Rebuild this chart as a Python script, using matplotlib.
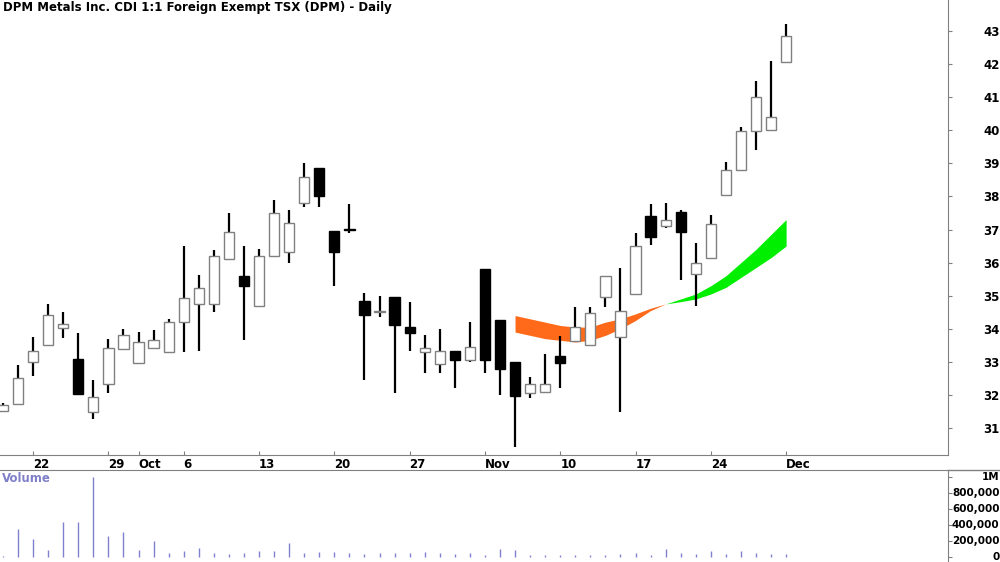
import matplotlib
matplotlib.use("Agg")
import matplotlib.pyplot as plt
import numpy as np

opens  = [31.5,31.72,33.0,33.5,34.02,33.08,31.48,32.33,33.39,32.96,33.42,33.3,34.2,34.75,34.75,36.1,35.6,34.69,36.2,36.32,37.8,38.86,36.95,37.0,
          34.84,34.5,34.96,34.05,33.3,32.93,33.33,33.05,35.8,34.26,33.0,32.06,32.1,33.18,33.63,33.5,34.96,33.75,35.05,37.4,37.1,37.53,35.65,36.14,38.05,38.8,39.98,40.0,42.06]
closes = [31.7,32.5,33.33,34.41,34.14,32.03,31.94,33.42,33.8,33.6,33.66,34.2,34.93,35.23,36.2,36.92,35.3,36.2,37.5,37.2,38.59,38.0,36.32,36.98,
          34.41,34.5,34.1,33.87,33.42,33.33,33.05,33.45,33.05,32.78,31.97,32.33,32.33,32.96,34.05,34.47,35.6,34.54,36.5,36.77,37.3,36.92,36.0,37.17,38.8,39.98,41.0,40.4,42.85]
highs  = [31.75,32.9,33.75,34.75,34.5,33.87,32.45,33.7,34.0,33.9,33.96,34.3,36.5,35.62,36.38,37.5,36.5,36.4,37.9,37.6,39.0,38.86,36.95,37.77,
          35.08,35.0,34.96,34.8,33.8,33.99,33.33,34.2,35.8,34.26,33.0,32.54,33.24,33.78,34.65,34.65,35.6,35.83,36.9,37.77,37.8,37.6,36.6,37.45,39.04,40.1,41.5,42.1,43.2]
lows   = [31.5,31.7,32.57,33.5,33.72,32.03,31.27,32.06,33.35,32.96,33.42,33.3,33.3,33.33,34.5,36.1,33.66,34.69,36.2,36.0,37.68,37.68,35.3,36.9,
          32.45,34.35,32.06,33.33,32.66,32.66,32.2,33.0,32.66,32.0,30.42,31.9,32.06,32.2,33.63,33.5,34.65,31.48,35.05,36.53,37.05,35.47,34.7,36.14,38.0,38.8,39.4,40.0,42.06]
volumes = [0.01,0.35,0.22,0.09,0.44,0.44,1.0,0.26,0.31,0.09,0.2,0.05,0.08,0.11,0.05,0.04,0.05,0.07,0.08,0.17,0.05,0.06,
           0.06,0.05,0.04,0.05,0.05,0.05,0.06,0.05,0.04,0.05,0.03,0.1,0.09,0.03,0.02,0.02,0.02,0.02,0.03,0.04,0.05,0.02,0.1,0.05,0.04,0.07,0.04,0.08,0.05,0.04,0.04]
band_start = 34
band_fast = [33.9,33.8,33.7,33.65,33.6,33.65,33.8,34.0,34.25,34.55,34.75,34.9,35.05,35.3,35.6,36.0,36.4,36.85,37.3]
band_slow = [34.4,34.3,34.2,34.1,34.05,34.05,34.2,34.3,34.45,34.62,34.75,34.82,34.9,35.05,35.25,35.55,35.85,36.15,36.5]
tick_idx = [2,7,9,12,17,22,27,32,37,42,47,52]
tick_lab = ["22","29","Oct","6","13","20","27","Nov","10","17","24","Dec"]
price_ticks = [31,32,33,34,35,36,37,38,39,40,41,42,43]
vol_ticks = [0,0.2,0.4,0.6,0.8,1.0]
vol_lab = ["0","200,000","400,000","600,000","800,000","1M"]

W, H = 1000, 562
fig = plt.figure(figsize=(10, 5.62), dpi=100)
axw = 948 / W
ax = fig.add_axes([0, 1 - 455 / H, axw, 455 / H])
axv = fig.add_axes([0, 0, axw, (562 - 470) / H])

x = np.arange(len(opens))
xlim = (-0.2, 62.75)
grey = "#808080"
for i in x:
    o, c, h, l = opens[i], closes[i], highs[i], lows[i]
    ax.vlines(i, l, h, color="black", lw=1.6, zorder=2)
    up = c >= o
    ax.bar(i, max(abs(c - o), 0.03), bottom=min(o, c), width=0.68,
           color="white" if up else "black", edgecolor=grey if up else "black", lw=1.0, zorder=3)

bx = np.arange(band_start, band_start + len(band_fast))
f = np.array(band_fast); s = np.array(band_slow)
ax.fill_between(bx, f, s, where=f >= s, interpolate=True, color="#00ee00", lw=0, zorder=1)
ax.fill_between(bx, f, s, where=f <= s, interpolate=True, color="#ff6a1a", lw=0, zorder=1)

ax.set_xlim(*xlim)
ax.set_ylim(31 - 27 / 33.08, 43 + 31 / 33.08)
ax.yaxis.tick_right()
ax.set_yticks(price_ticks)
ax.set_yticklabels([str(p) for p in price_ticks], fontsize=8.5, fontweight="bold", ha="right")
ax.tick_params(axis="y", direction="out", length=3, pad=34, colors=grey, labelcolor="black")
ax.set_xticks(tick_idx)
ax.set_xticklabels(tick_lab, fontsize=8.5, fontweight="bold", ha="left")
ax.tick_params(axis="x", direction="in", length=3, pad=2, colors=grey, labelcolor="black")
for sp in ["top", "left"]:
    ax.spines[sp].set_visible(False)
for sp in ["right", "bottom"]:
    ax.spines[sp].set_color(grey)
ax.text(0.003, 1 - 8 / 455, "DPM Metals Inc. CDI 1:1 Foreign Exempt TSX (DPM) - Daily",
        transform=ax.transAxes, fontsize=8.5, fontweight="bold", va="center", ha="left")

axv.vlines(x, 0, volumes, color="#8080d0", lw=1.0)
axv.set_xlim(*xlim)
axv.set_ylim(-5 / 80, (557 - 470) / 80)
axv.yaxis.tick_right()
axv.set_yticks(vol_ticks)
axv.set_yticklabels(vol_lab, fontsize=7.5, fontweight="bold", ha="right", va="center")
axv.tick_params(axis="y", direction="out", length=3, pad=34, colors=grey, labelcolor="black")
axv.set_xticks([])
for sp in ["bottom", "left"]:
    axv.spines[sp].set_visible(False)
for sp in ["right", "top"]:
    axv.spines[sp].set_color(grey)
axv.text(0.002, 1 - 9 / 92, "Volume", transform=axv.transAxes, fontsize=8.5,
         fontweight="bold", color="#8080c8", va="center")
fig.add_artist(plt.Line2D([axw, 1], [1 - 470 / H] * 2, color=grey, lw=1))

fig.savefig("out.png", dpi=100)
